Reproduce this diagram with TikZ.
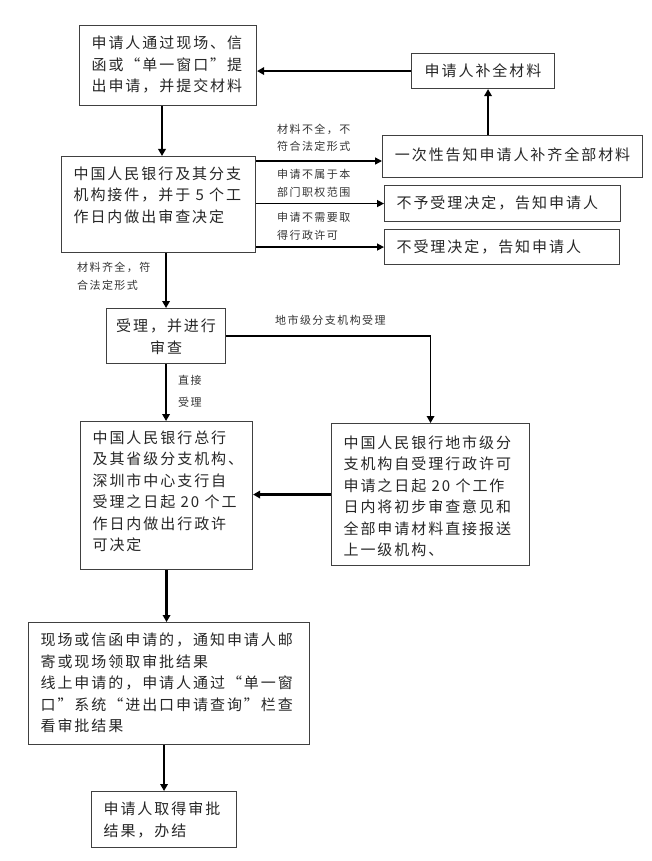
\documentclass[tikz,border=0pt]{standalone}
\usepackage{fontspec}
\setmainfont{Noto Sans CJK SC}[LetterSpace=13]
\usetikzlibrary{arrows.meta}
\newcommand{\tb}[4]{\parbox[c][#2][t]{#1}{\raggedright\setlength{\leftskip}{12pt}\vspace*{#3}#4}}
\newcommand{\cb}[4]{\parbox[c][#2][t]{#1}{\centering\vspace*{#3}#4}}
\tikzset{
  box/.style={draw=black!75, line width=1.1pt, inner sep=0pt, anchor=north west, text=black!85,
    font=\fontsize{15}{21.5}\selectfont},
  lab/.style={font=\fontsize{11}{17.5}\selectfont, text=black!80, align=left, inner sep=0pt},
  mainarr/.style={line width=2.2pt, -{Triangle[length=7pt,width=7.5pt]}},
  thinarr/.style={line width=1.4pt, -{Triangle[length=7pt,width=7pt]}},
}
\begin{document}
\begin{tikzpicture}[x=1pt,y=-1pt]
\useasboundingbox (0,0) rectangle (651,861);
% boxes
\node[box] (a) at (79,25) {\tb{177pt}{80pt}{10.5pt}{申请人通过现场、信\\函或“单一窗口”提\\出申请，并提交材料}};
\node[box] (c) at (411,53) {\cb{143pt}{35pt}{10pt}{申请人补全材料}};
\node[box] (d) at (382,135) {\cb{260pt}{42pt}{12pt}{一次性告知申请人补齐全部材料}};
\node[box] (b) at (61,156) {\tb{194pt}{96pt}{10pt}{中国人民银行及其分支\\机构接件，并于 5 个工\\作日内做出审查决定}};
\node[box] (e) at (384,185) {\tb{236pt}{36pt}{10.5pt}{不予受理决定，告知申请人}};
\node[box] (f) at (384,229) {\tb{235pt}{35pt}{10pt}{不受理决定，告知申请人}};
\node[box] (g) at (106,308) {\cb{119pt}{55pt}{10.5pt}{受理，并进行\\审查}};
\node[box] (h) at (80,421) {\tb{172pt}{148pt}{9pt}{中国人民银行总行\\及其省级分支机构、\\深圳市中心支行自\\受理之日起 20 个工\\作日内做出行政许\\可决定}};
\node[box] (i) at (331,423) {\tb{198pt}{142pt}{12pt}{中国人民银行地市级分\\支机构自受理行政许可\\申请之日起 20 个工作\\日内将初步审查意见和\\全部申请材料直接报送\\上一级机构、}};
\node[box] (j) at (28,622) {\tb{281pt}{122pt}{10.5pt}{现场或信函申请的，通知申请人邮\\寄或现场领取审批结果\\线上申请的，申请人通过“单一窗\\口”系统“进出口申请查询”栏查\\看审批结果}};
\node[box] (k) at (91,791) {\tb{145pt}{56pt}{10.5pt}{申请人取得审批\\结果，办结}};
% labels
\node[lab, anchor=west] (l1) at (277,138) {材料不全，不\\符合法定形式};
\node[lab, anchor=west] (l2) at (277,183.5) {申请不属于本\\部门职权范围};
\node[lab, anchor=west] (l3) at (277,226.5) {申请不需要取\\得行政许可};
\node[lab, anchor=west] (l4) at (77,276.5) {材料齐全，符\\合法定形式};
\node[lab, anchor=west] (l5) at (275,320) {地市级分支机构受理};
\node[lab, anchor=west, font=\fontsize{11}{22}\selectfont] (l6) at (178,391) {直接\\受理};
% connectors
\coordinate (x1) at (162,0);
\draw[mainarr] (c.west) -- (c.west -| a.east);
\draw[mainarr] ([xshift=5pt]c.south |- d.north) -- ([xshift=5pt]c.south);
\draw[mainarr] (a.south -| x1) -- (b.north -| x1);
\draw[thinarr] ([yshift=-5pt]b.north east) -- ([yshift=-5pt]b.north east -| d.west);
\draw[thinarr] (b.east |- e.west) -- (e.west);
\draw[thinarr] (b.east |- f.west) -- (f.west);
\draw[mainarr] (b.south -| g.north) -- (g.north);
\draw[line width=1.6pt, -{Triangle[length=7pt,width=7.5pt]}] (g.east) -| (i.north);
\draw[mainarr] (g.south) -- (g.south |- h.north);
\draw[mainarr] (i.west) -- (i.west -| h.east);
\draw[mainarr] (h.south) -- (h.south |- j.north);
\draw[mainarr] (k.north |- j.south) -- (k.north);
\end{tikzpicture}
\end{document}
